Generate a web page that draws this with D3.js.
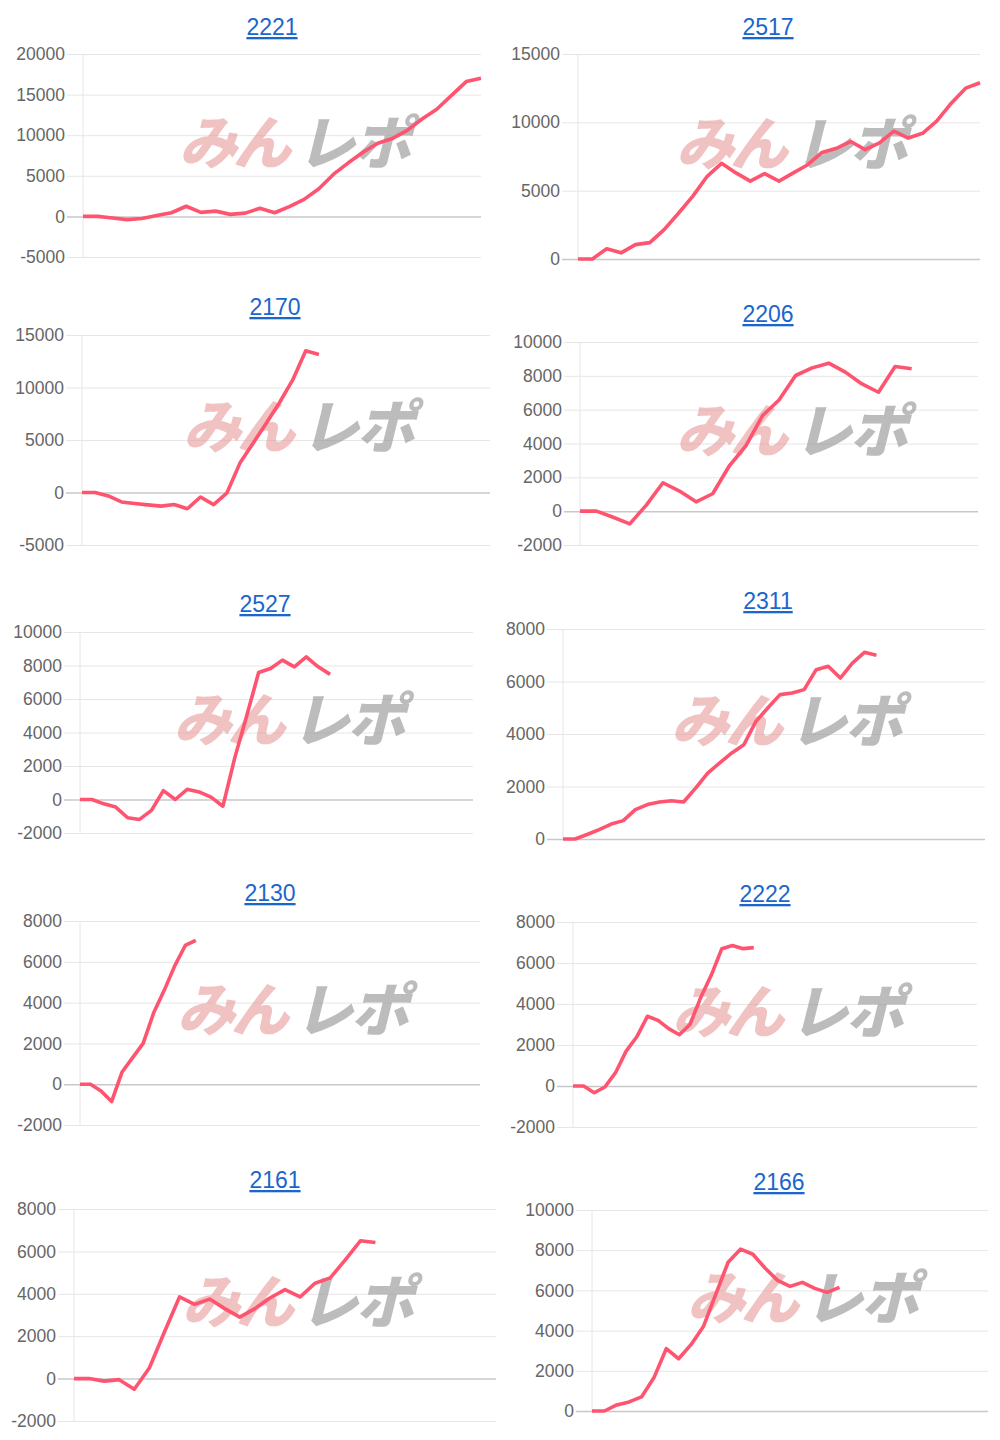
<!DOCTYPE html>
<html><head><meta charset="utf-8">
<script src="https://cdn.jsdelivr.net/npm/d3@7"></script>
<style>body{margin:0;background:#fff}</style></head>
<body><svg id="c" width="1000" height="1440"></svg>
<script>
const titles = ["2221","2517","2170","2206","2527","2311","2130","2222","2161","2166"];
const slots = [28,29,32,25,34,36,39,39,29,33];
const yDomains = [[-5000,20000],[0,15000],[-5000,15000],[-2000,10000],[-2000,10000],[0,8000],[-2000,8000],[-2000,8000],[-2000,8000],[0,10000]];
const yTicks = [
 [-5000,0,5000,10000,15000,20000],[0,5000,10000,15000],[-5000,0,5000,10000,15000],
 [-2000,0,2000,4000,6000,8000,10000],[-2000,0,2000,4000,6000,8000,10000],[0,2000,4000,6000,8000],
 [-2000,0,2000,4000,6000,8000],[-2000,0,2000,4000,6000,8000],[-2000,0,2000,4000,6000,8000],[0,2000,4000,6000,8000,10000]];
const s2221 = [0,0,-200,-400,-250,100,450,1250,500,650,250,400,1000,450,1200,2100,3400,5200,6600,7900,9000,9600,10600,12000,13200,14900,16600,17000];
const s2517 = [0,0,750,450,1050,1200,2150,3350,4600,6050,7000,6300,5700,6250,5700,6300,6900,7800,8100,8600,8000,8500,9350,8850,9200,10100,11400,12500,12900];
const s2170 = [0,0,-330,-900,-1050,-1180,-1300,-1150,-1550,-430,-1150,-70,2800,4700,6600,8550,10700,13500,13150];
const s2206 = [0,0,-360,-750,360,1680,1190,550,1030,2670,3860,5640,6570,8020,8470,8750,8220,7520,7030,8550,8420];
const s2527 = [0,0,-260,-450,-1090,-1190,-650,530,0,610,450,140,-400,2500,5000,7580,7820,8320,7920,8510,7920,7470];
const s2311 = [0,0,170,360,570,700,1120,1310,1410,1460,1410,1940,2510,2900,3280,3590,4480,5000,5500,5560,5690,6450,6580,6130,6700,7110,7000];
const s2130 = [0,0,-330,-850,600,1300,2000,3500,4600,5800,6800,7050];
const s2222 = [0,0,-330,-50,650,1700,2400,3400,3200,2800,2500,3000,4300,5400,6700,6850,6700,6750];
const s2161 = [0,0,-120,-50,-500,500,2200,3850,3500,3750,3300,2900,3300,3800,4200,3850,4500,4750,5600,6500,6420];
const s2166 = [0,0,300,450,700,1650,3100,2600,3300,4200,5800,7400,8050,7800,7100,6500,6200,6400,6100,5900,6150];
const series = [s2221,s2517,s2170,s2206,s2527,s2311,s2130,s2222,s2161,s2166];

// layout: [left, right, top, bottom, titleX, titleY]
const boxes = [
 [83,481,54,257,272,27],[578,980,54,259,768,27],
 [82,490,335,545,275,307],[580,978,342,545,768,314],
 [80,473,632,833,265,604],[563,985,629,839,768,601],
 [80,480,921,1125,270,893],[573,977,922,1127,765,894],
 [74,496,1209,1421,275,1180],[592,988,1210,1411,779,1182]];

const svg = d3.select("#c");
series.forEach((data,i)=>{
  const [l,r,t,b,tx,ty] = boxes[i];
  const x = d3.scaleLinear().domain([0,slots[i]-1]).range([l,r]);
  const y = d3.scaleLinear().domain(yDomains[i]).range([b,t]);
  const g = svg.append("g");
  g.append("line").attr("x1",l).attr("x2",l).attr("y1",t).attr("y2",b).attr("stroke","#e6e6e6");
  const axg = g.append("g").attr("transform",`translate(${r},0)`).call(d3.axisLeft(y).tickValues(yTicks[i]).tickSize(r-l+16).tickFormat(d=>String(d)));
  axg.select(".domain").remove();
  axg.selectAll(".tick line").attr("stroke",d=>d===0?"#c8c8c8":"#e6e6e6").attr("stroke-width",d=>d===0?1.5:1);
  axg.selectAll(".tick text").attr("fill","#666").attr("font-size",17.5).attr("font-family","Helvetica, Liberation Sans, Arial, sans-serif").attr("x",-(r-l+16)-2);
  // watermark
  const cx=(l+r)/2+14, cy=(t+b)/2-12;
  const wm = g.append("g").attr("transform",`translate(${cx},${cy}) skewX(-14)`).attr("font-family","Noto Sans CJK JP").attr("font-weight",900).attr("font-size",58);
  wm.append("text").attr("x",-4).attr("y",20).attr("text-anchor","end").attr("letter-spacing",-4).attr("fill","#e89a9a").attr("opacity",0.6).text("みん");
  wm.append("text").attr("x",6).attr("y",20).attr("text-anchor","start").attr("letter-spacing",-2).attr("fill","#999").attr("opacity",0.65).text("レポ");
  g.append("path").datum(data).attr("fill","none").attr("stroke","#ff5470").attr("stroke-width",3.6).attr("stroke-linejoin","round")
    .attr("d",d3.line().x((d,j)=>x(j)).y(d=>y(d)));
  g.append("text").attr("x",tx).attr("y",ty+8).attr("text-anchor","middle").attr("fill","#1a66cc").attr("font-size",23)
    .attr("font-family","Helvetica, Liberation Sans, Arial, sans-serif").attr("text-decoration","underline").text(titles[i]);
});
</script></body></html>
